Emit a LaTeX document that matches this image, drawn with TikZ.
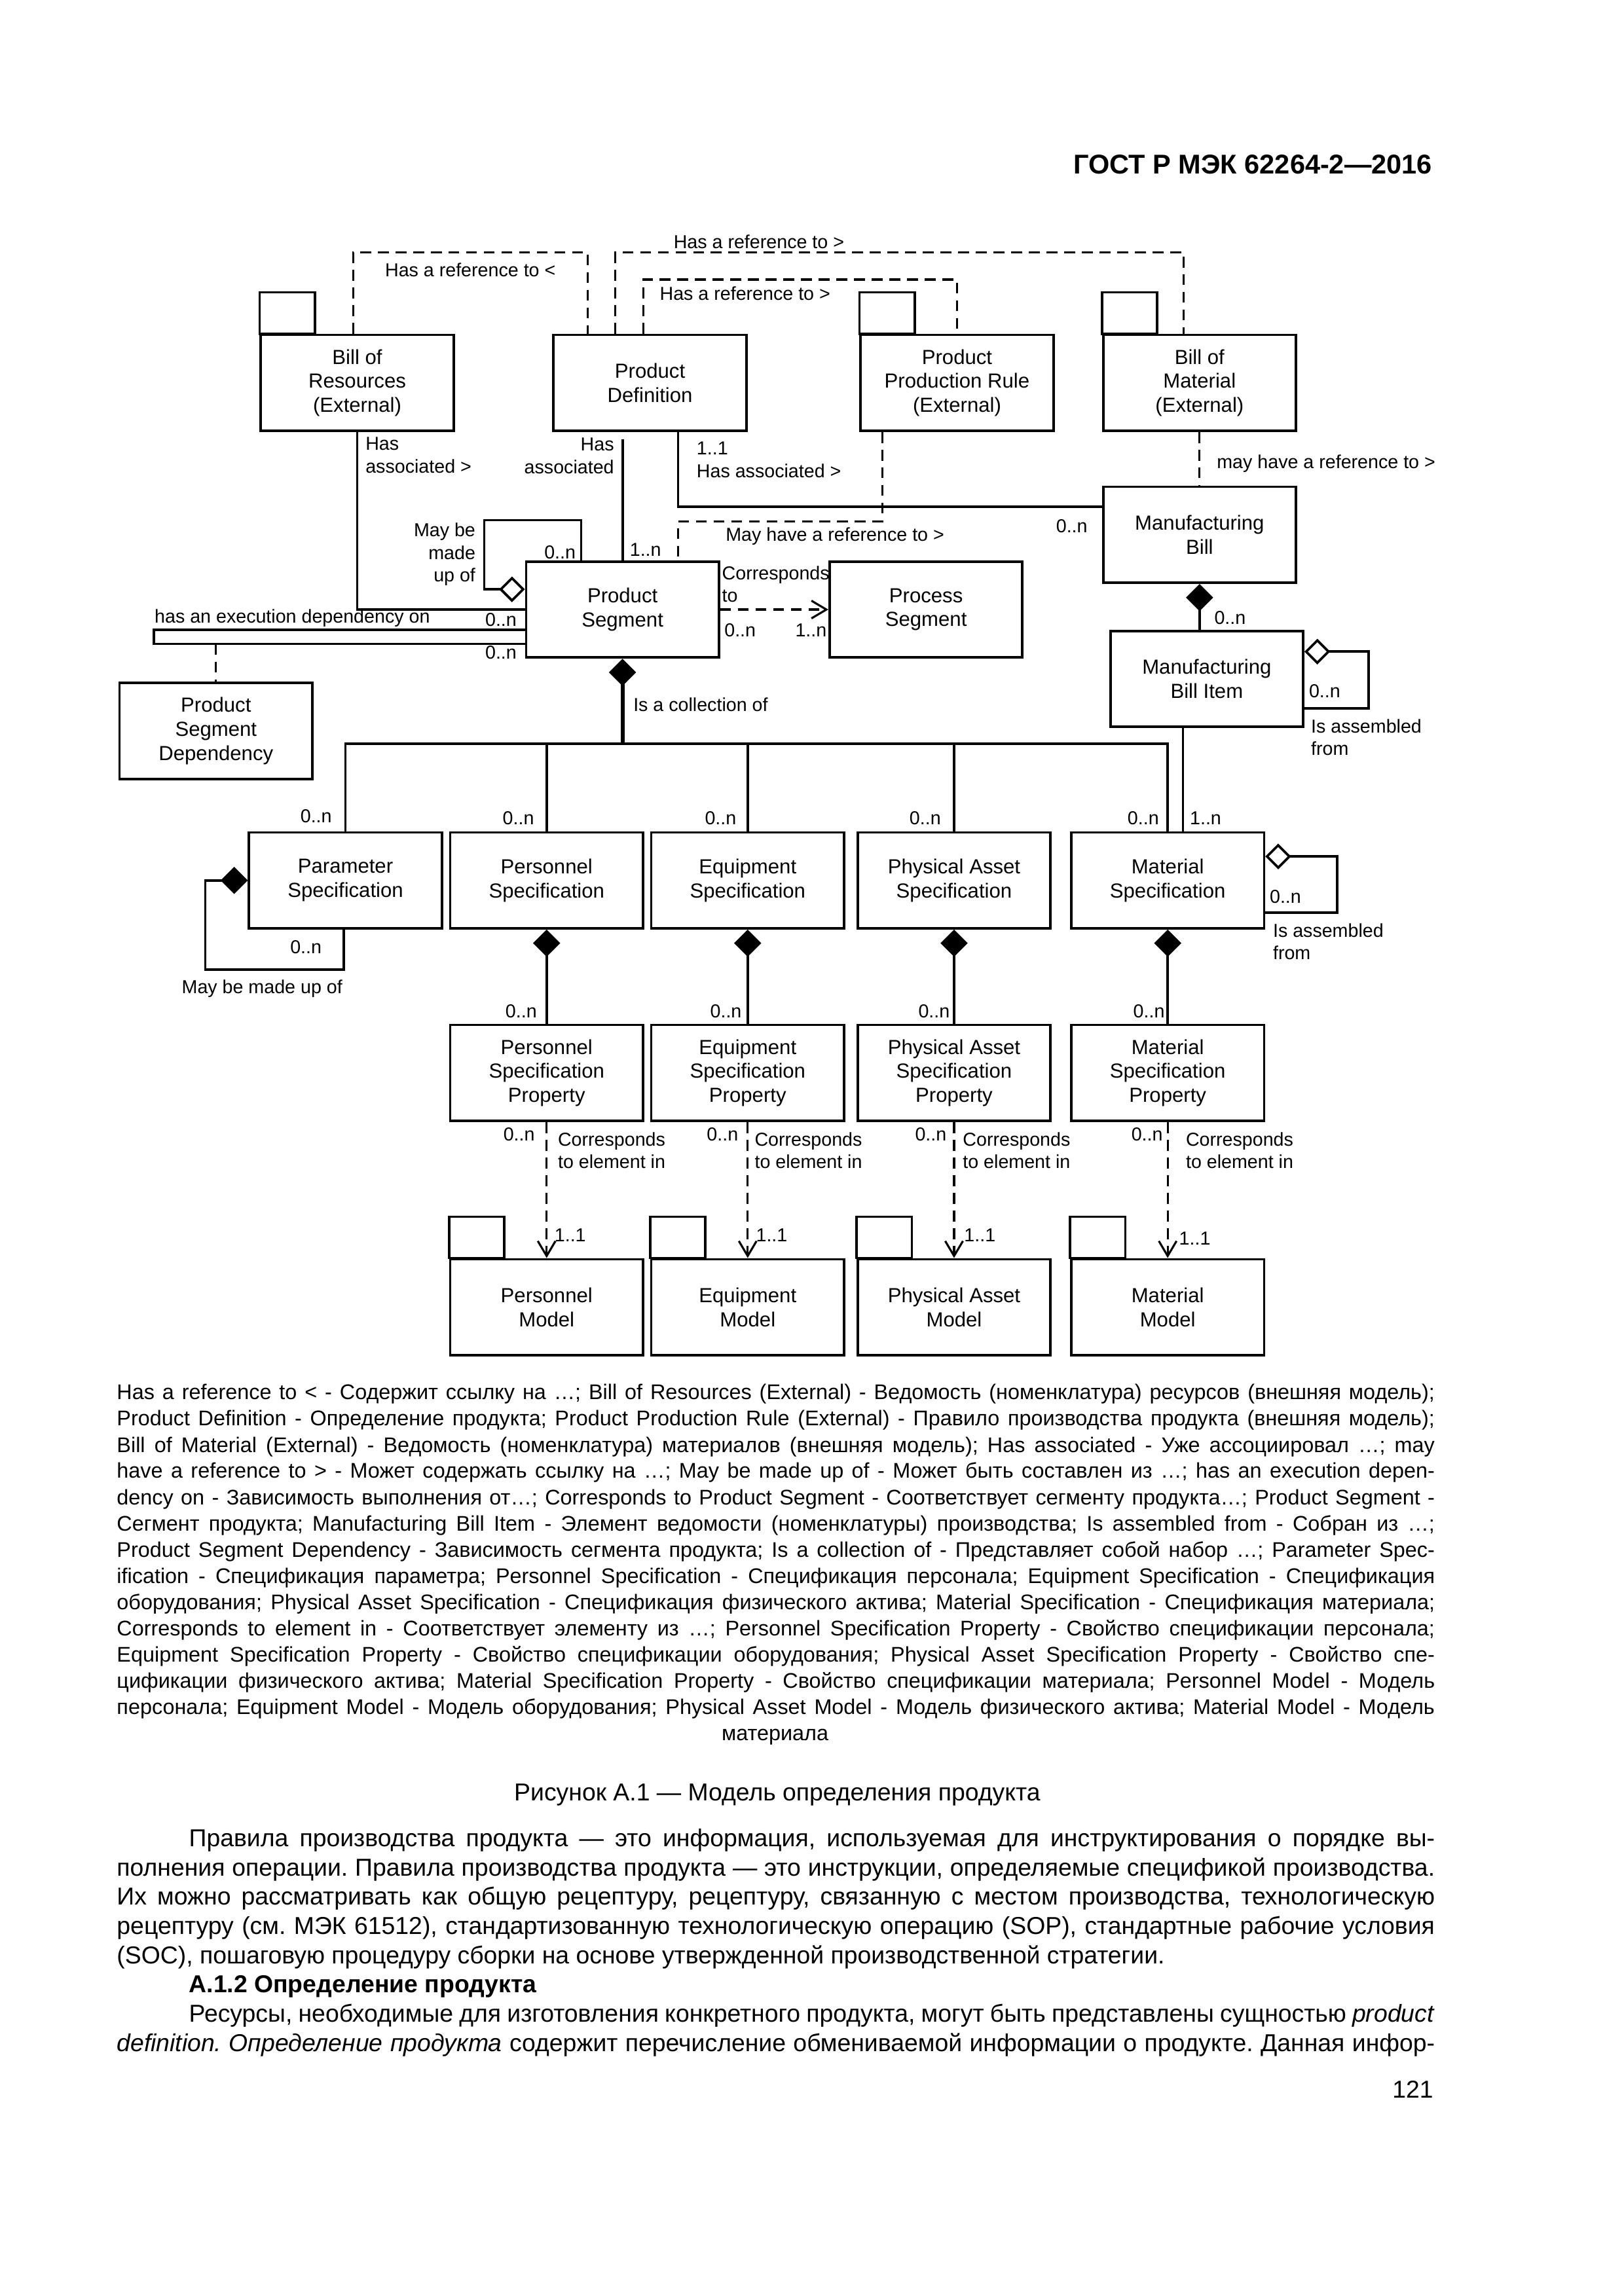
\documentclass[tikz,border=0pt]{standalone}
\usepackage{fontspec}
\setmainfont{Liberation Sans}
\usetikzlibrary{arrows.meta}
\frenchspacing

\begin{document}
\begin{tikzpicture}[x=0.0190909cm, y=-0.0190909cm,
  box/.style={draw, line width=0.9pt, minimum width=2.493cm, minimum height=1.241cm,
    inner sep=0pt, align=center, font=\fontsize{7.5}{8.86}\selectfont},
  lbl/.style={inner sep=0pt, align=left, font=\fontsize{6.9}{8.3}\selectfont},
  assoc/.style={line width=0.9pt},
  ref/.style={line width=0.75pt, dash pattern=on 4pt off 2.5pt},
  comp/.style={arrows={Diamond[length=10pt,width=10pt]-}},
  aggr/.style={arrows={Diamond[fill=white,length=9.5pt,width=9.5pt]-}},
  dep/.style={arrows={-Straight Barb[length=5.5pt,width=6.5pt]}},
  legend/.style={inner sep=0pt, anchor=base west, font=\fontsize{7.8}{9.63}\selectfont},
  body/.style={inner sep=0pt, anchor=base west, font=\fontsize{9}{10.7}\selectfont}]
\useasboundingbox (0,0) rectangle (1100,1555.7);

\node[inner sep=0pt, anchor=base east, font=\fontsize{10}{12}\selectfont\bfseries] (head) at (970.5,117.6) {ГОСТ Р МЭК 62264-2—2016};

% classes
\node[box] (bor) at (242,259.4) {Bill of\\Resources\\(External)};
\node[box] (pd) at (440.3,259.4) {Product\\Definition};
\node[box] (ppr) at (648.3,259.4) {Product\\Production Rule\\(External)};
\node[box] (bom) at (812.6,259.4) {Bill of\\Material\\(External)};
\node[box] (mb) at (812.6,362.3) {Manufacturing\\Bill};
\node[box] (ps) at (421.7,413) {Product\\Segment};
\node[box] (procseg) at (627.3,413) {Process\\Segment};
\node[box] (mbi) at (817.5,460) {Manufacturing\\Bill Item};
\node[box] (psd) at (146.3,495.3) {Product\\Segment\\Dependency};
\node[box] (param) at (234,596.5) {Parameter\\Specification};
\node[box] (pers) at (370.3,596.5) {Personnel\\Specification};
\node[box] (equip) at (506.5,596.5) {Equipment\\Specification};
\node[box] (phys) at (646.3,596.5) {Physical Asset\\Specification};
\node[box] (mat) at (791,596.5) {Material\\Specification};
\node[box] (psp) at (370.3,727) {Personnel\\Specification\\Property};
\node[box] (esp) at (506.5,727) {Equipment\\Specification\\Property};
\node[box] (pasp) at (646.3,727) {Physical Asset\\Specification\\Property};
\node[box] (msp) at (791,727) {Material\\Specification\\Property};
\node[box] (pmod) at (370.3,885.7) {Personnel\\Model};
\node[box] (emod) at (506.5,885.7) {Equipment\\Model};
\node[box] (pamod) at (646.3,885.7) {Physical Asset\\Model};
\node[box] (mmod) at (791,885.7) {Material\\Model};

% package tabs
\draw[assoc] (bor.north west) rectangle ++(37.5,-28);
\draw[assoc] (ppr.north west) rectangle ++(37.5,-28);
\draw[assoc] (bom.north west) rectangle ++(37.5,-28);
\draw[assoc] (pmod.north west) rectangle ++(37.5,-28);
\draw[assoc] (emod.north west) rectangle ++(37.5,-28);
\draw[assoc] (pamod.north west) rectangle ++(37.5,-28);
\draw[assoc] (mmod.north west) rectangle ++(37.5,-28);

% references at the top
\coordinate (t1) at (239.2,171);
\coordinate (t2) at (398.1,171);
\draw[ref] (t1 |- bor.north) -- (t1) -- (t2) -- (t2 |- pd.north);
\coordinate (t3) at (416.9,171);
\coordinate (t4) at (801.8,171);
\draw[ref] (t3 |- pd.north) -- (t3) -- (t4) -- (t4 |- bom.north);
\coordinate (t5) at (435.7,189.4);
\draw[ref] (t5 |- pd.north) -- (t5) -| (ppr.north);
\node[lbl, anchor=west] (l1) at (260.5,183) {Has a reference to <};
\node[lbl, anchor=west] (l2) at (456,163.8) {Has a reference to >};
\node[lbl, anchor=west] (l3) at (446.6,198.8) {Has a reference to >};

% associations around product segment
\draw[assoc] (bor.south) |- (ps.west);
\node[lbl, anchor=west] (l4) at (247.3,308.4) {Has\\associated >};
\draw[assoc, shorten <=0.09cm] (pd.south -| ps.north) -- (ps.north);
\node[lbl, anchor=east, align=right] (l5) at (416.3,308.9) {Has\\associated};
\node[lbl, anchor=west] (l12) at (426.3,372.4) {1..n};
\coordinate (t6) at (459.4,343.4);
\draw[assoc] (t6 |- pd.south) -- (t6) -- (t6 -| mb.west);
\node[lbl, anchor=west] (l6) at (471.6,311.5) {1..1\\Has associated >};
\node[lbl, anchor=east] (l9) at (737,356.5) {0..n};
\coordinate (t7) at (597.8,353.2);
\coordinate (t8) at (459.4,353.2);
\draw[ref] (t7 |- ppr.south) -- (t7) -- (t8) -- (t8 |- ps.north);
\node[lbl, anchor=west] (l8) at (491.3,363.4) {May have a reference to >};
\draw[ref] (bom.south) -- (mb.north);
\node[lbl, anchor=west] (l7) at (824,314) {may have a reference to >};

\coordinate (t9) at (393.7,352.4);
\coordinate (t10) at (328,399.3);
\draw[assoc, aggr] (t10 -| ps.west) -- (t10) |- (t9) -- (t9 |- ps.north);
\node[lbl, anchor=east, align=right] (l10) at (322.4,375.7) {May be\\made\\up of};
\node[lbl, anchor=east] (l11) at (390.3,374.4) {0..n};

\coordinate (t11) at (104.4,426.6);
\coordinate (t12) at (104.4,436.3);
\draw[assoc] (t11 -| ps.west) -- (t11) -- (t12) -- (t12 -| ps.west);
\node[lbl, anchor=west] (l13) at (104.4,418.8) {has an execution dependency on};
\node[lbl, anchor=east] (l14) at (350.3,420) {0..n};
\node[lbl, anchor=east] (l15) at (350.3,442) {0..n};
\coordinate (t13) at (146.3,436.3);
\draw[ref] (t13) -- (psd.north);

\draw[ref, dep] (ps.east) -- (procseg.west);
\node[lbl, anchor=west] (l16) at (488.8,395.8) {Corresponds\\to};
\node[lbl, anchor=west] (l17) at (490.4,426.9) {0..n};
\node[lbl, anchor=west] (l18) at (538.4,426.9) {1..n};

% manufacturing bill
\draw[assoc, comp] (mb.south) -- (mb.south |- mbi.north);
\node[lbl, anchor=west] (l19) at (822.3,418.5) {0..n};
\coordinate (t15) at (927,441.5);
\coordinate (t16) at (927,479.9);
\draw[assoc, aggr] (t15 -| mbi.east) -- (t15) -- (t16) -- (t16 -| mbi.east);
\node[lbl, anchor=west] (l20) at (886.4,468.4) {0..n};
\node[lbl, anchor=west] (l21) at (887.8,499.7) {Is assembled\\from};

% collection of specifications
\coordinate (bus) at (421.7,504);
\draw[comp, line width=1.4pt] (ps.south) -- (bus);
\node[lbl, anchor=west] (l22) at (428.7,477.3) {Is a collection of};
\draw[assoc] (param.north) |- (bus) -| (mat.north);
\draw[assoc] (pers.north) -- (pers.north |- bus);
\draw[assoc] (equip.north) -- (equip.north |- bus);
\draw[assoc] (phys.north) -- (phys.north |- bus);
\coordinate (t14) at (801.3,520);
\draw[assoc] (t14 |- mbi.south) -- (t14 |- mat.north);
\node[lbl, anchor=east] (m1) at (225.1,553) {0..n};
\node[lbl, anchor=east] (m2) at (362.1,554.4) {0..n};
\node[lbl, anchor=east] (m3) at (499.1,554.4) {0..n};
\node[lbl, anchor=east] (m4) at (637.7,554.4) {0..n};
\node[lbl, anchor=east] (m5) at (785.4,554.4) {0..n};
\node[lbl, anchor=west] (m6) at (805.7,554.4) {1..n};

\coordinate (t17) at (139.1,656.9);
\coordinate (t18) at (233,656.9);
\draw[assoc, comp] (param.west) -| (t17) -- (t18) -- (t18 |- param.south);
\node[lbl, anchor=east] (m7) at (218.2,641.7) {0..n};
\node[lbl, anchor=west] (m8) at (122.8,669.8) {May be made up of};
\coordinate (t19) at (905.8,580.3);
\coordinate (t20) at (905.8,618.5);
\draw[assoc, aggr] (t19 -| mat.east) -- (t19) -- (t20) -- (t20 -| mat.east);
\node[lbl, anchor=west] (m9) at (859.8,607.7) {0..n};
\node[lbl, anchor=west] (m10) at (862,638) {Is assembled\\from};

% properties
\draw[assoc, comp] (pers.south) -- (psp.north);
\draw[assoc, comp] (equip.south) -- (esp.north);
\draw[assoc, comp] (phys.south) -- (pasp.north);
\draw[assoc, comp] (mat.south) -- (msp.north);
\node[lbl, anchor=east] (p1) at (364,685) {0..n};
\node[lbl, anchor=east] (p2) at (502.7,685) {0..n};
\node[lbl, anchor=east] (p3) at (643.7,685) {0..n};
\node[lbl, anchor=east] (p4) at (789.3,685) {0..n};

% models
\draw[ref, dep] (psp.south) -- (pmod.north);
\draw[ref, dep] (esp.south) -- (emod.north);
\draw[ref, dep] (pasp.south) -- (pamod.north);
\draw[ref, dep] (msp.south) -- (mmod.north);
\node[lbl, anchor=east] (q1) at (362.6,768.6) {0..n};
\node[lbl, anchor=east] (q2) at (500.4,768.6) {0..n};
\node[lbl, anchor=east] (q3) at (641.5,768.6) {0..n};
\node[lbl, anchor=east] (q4) at (788,768.6) {0..n};
\node[lbl, anchor=west] (c1) at (377.6,779.5) {Corresponds\\to element in};
\node[lbl, anchor=west] (c2) at (510.9,779.5) {Corresponds\\to element in};
\node[lbl, anchor=west] (c3) at (651.9,779.5) {Corresponds\\to element in};
\node[lbl, anchor=west] (c4) at (803,779.5) {Corresponds\\to element in};
\node[lbl, anchor=west] (r1) at (375.3,836.8) {1..1};
\node[lbl, anchor=west] (r2) at (511.8,836.8) {1..1};
\node[lbl, anchor=west] (r3) at (652.8,836.8) {1..1};
\node[lbl, anchor=west] (r4) at (798.4,839) {1..1};

% legend
\node[legend] (lg1) at (78.8,948.3) {\makebox[17.042cm][s]{Has a reference to < - Содержит ссылку на …; Bill of Resources (External) - Ведомость (номенклатура) ресурсов (внешняя модель);}};
\node[legend] (lg2) at (78.8,966.1) {\makebox[17.042cm][s]{Product Definition - Определение продукта; Product Production Rule (External) - Правило производства продукта (внешняя модель);}};
\node[legend] (lg3) at (78.8,983.9) {\makebox[17.042cm][s]{Bill of Material (External) - Ведомость (номенклатура) материалов (внешняя модель); Has associated - Уже ассоциировал …; may}};
\node[legend] (lg4) at (78.8,1001.6) {\makebox[17.042cm][s]{have a reference to > - Может содержать ссылку на …; May be made up of - Может быть составлен из …; has an execution depen-}};
\node[legend] (lg5) at (78.8,1019.4) {\makebox[17.042cm][s]{dency on - Зависимость выполнения от…; Corresponds to Product Segment - Соответствует сегменту продукта…; Product Segment -}};
\node[legend] (lg6) at (78.8,1037.2) {\makebox[17.042cm][s]{Сегмент продукта; Manufacturing Bill Item - Элемент ведомости (номенклатуры) производства; Is assembled from - Собран из …;}};
\node[legend] (lg7) at (78.8,1055) {\makebox[17.042cm][s]{Product Segment Dependency - Зависимость сегмента продукта; Is a collection of - Представляет собой набор …; Parameter Spec-}};
\node[legend] (lg8) at (78.8,1072.8) {\makebox[17.042cm][s]{ification - Спецификация параметра; Personnel Specification - Спецификация персонала; Equipment Specification - Спецификация}};
\node[legend] (lg9) at (78.8,1090.5) {\makebox[17.042cm][s]{оборудования; Physical Asset Specification - Спецификация физического актива; Material Specification - Спецификация материала;}};
\node[legend] (lg10) at (78.8,1108.3) {\makebox[17.042cm][s]{Corresponds to element in - Соответствует элементу из …; Personnel Specification Property - Свойство спецификации персонала;}};
\node[legend] (lg11) at (78.8,1126.1) {\makebox[17.042cm][s]{Equipment Specification Property - Свойство спецификации оборудования; Physical Asset Specification Property - Свойство спе-}};
\node[legend] (lg12) at (78.8,1143.9) {\makebox[17.042cm][s]{цификации физического актива; Material Specification Property - Свойство спецификации материала; Personnel Model - Модель}};
\node[legend] (lg13) at (78.8,1161.6) {\makebox[17.042cm][s]{персонала; Equipment Model - Модель оборудования; Physical Asset Model - Модель физического актива; Material Model - Модель}};
\node[legend, anchor=base] (lg14) at (525,1179.4) {материала};

% caption and text
\node[body, anchor=base] (cap) at (526.5,1220.3) {Рисунок А.1 — Модель определения продукта};
\node[body] (b1) at (127.7,1251.2) {\makebox[16.109cm][s]{Правила производства продукта — это информация, используемая для инструктирования о порядке вы-}};
\node[body] (b2) at (78.8,1271) {\makebox[17.042cm][s]{полнения операции. Правила производства продукта — это инструкции, определяемые спецификой производства.}};
\node[body] (b3) at (78.8,1290.8) {\makebox[17.042cm][s]{Их можно рассматривать как общую рецептуру, рецептуру, связанную с местом производства, технологическую}};
\node[body] (b4) at (78.8,1310.6) {\makebox[17.042cm][s]{рецептуру (см. МЭК 61512), стандартизованную технологическую операцию (SOP), стандартные рабочие условия}};
\node[body] (b5) at (78.8,1330.4) {(SOC), пошаговую процедуру сборки на основе утвержденной производственной стратегии.};
\node[body, font=\fontsize{9}{10.7}\selectfont\bfseries] (b6) at (127.7,1350.2) {А.1.2 Определение продукта};
\node[body] (b7) at (127.7,1370) {\makebox[16.109cm][s]{Ресурсы, необходимые для изготовления конкретного продукта, могут быть представлены сущностью \textit{product}}};
\node[body] (b8) at (78.8,1389.8) {\makebox[17.042cm][s]{\textit{definition. Определение продукта} содержит перечисление обмениваемой информации о продукте. Данная инфор-}};
\node[body, anchor=base east] (pg) at (971.3,1421.3) {121};
\end{tikzpicture}
\end{document}
